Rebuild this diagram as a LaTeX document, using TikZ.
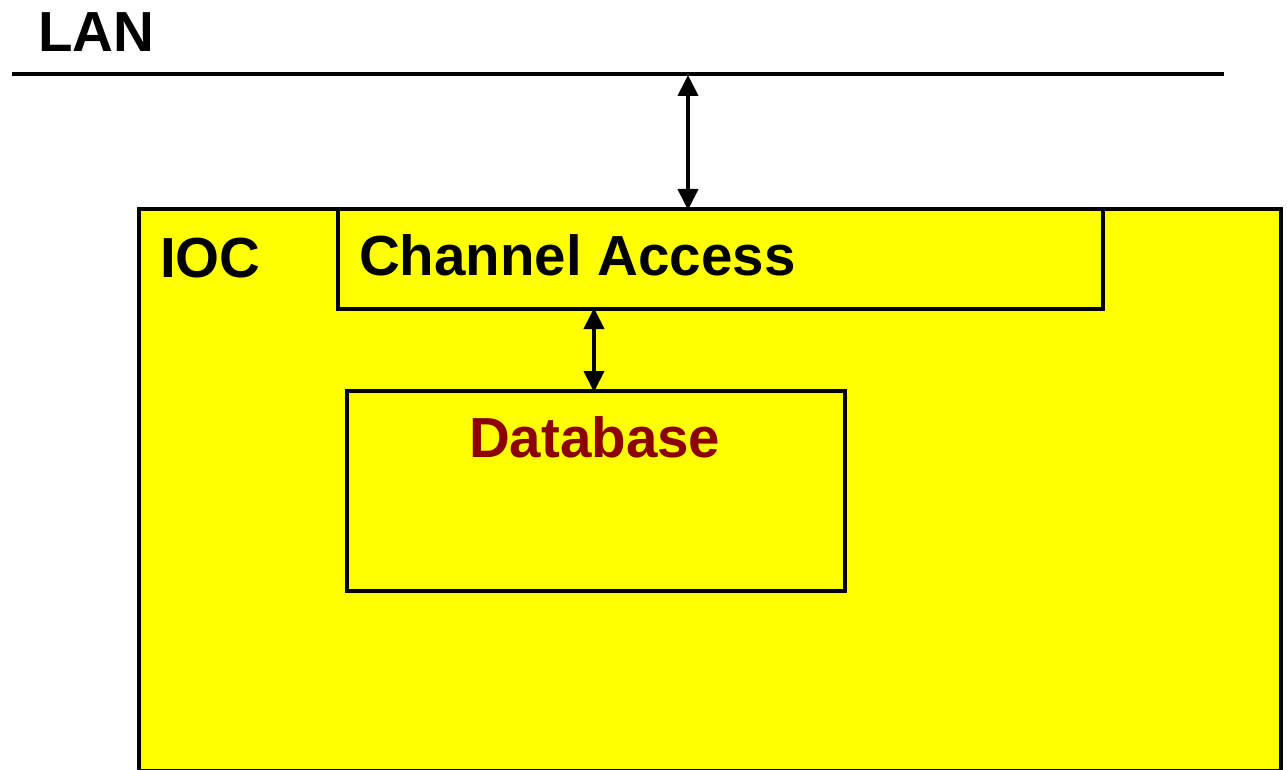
\documentclass[tikz,border=0pt]{standalone}
\usepackage{fontspec}
\setmainfont{Liberation Sans}
\usetikzlibrary{arrows.meta}
\definecolor{iocyellow}{RGB}{255,255,0}
\definecolor{dbred}{RGB}{140,0,0}
\begin{document}
\begin{tikzpicture}[x=1pt,y=-1pt,
  box/.style={draw=black,line width=3.8pt,fill=iocyellow,inner sep=0pt,outer sep=0pt,anchor=north west},
  label/.style={font=\fontsize{56.5}{60}\selectfont\bfseries,inner sep=0pt,anchor=base west},
  link/.style={line width=4pt,{Triangle[length=21pt,width=20pt]}-{Triangle[length=21pt,width=20pt]},shorten <=-1pt,shorten >=-1pt}]
  \useasboundingbox (0,0) rectangle (1287,770);
  % LAN bus
  \coordinate (lanL) at (12,74);
  \coordinate (lanR) at (1224,74);
  \draw[line width=4pt] (lanL) -- (lanR);
  \node[label] (lan) at (38,52) {LAN};
  % IOC enclosure
  \node[box,minimum width=1142pt,minimum height=562pt] (ioc) at (139,209) {};
  \node[label] (ioct) at (160,277) {IOC};
  % Channel Access
  \node[box,minimum width=765pt,minimum height=100pt] (ca) at (338,209) {};
  \node[label] (cat) at (359,275) {Channel Access};
  % Database
  \node[box,minimum width=498pt,minimum height=200pt] (db) at (347,391) {};
  \node[label,text=dbred] (dbt) at (469,457) {Database};
  % links
  \coordinate (lanTap) at (688,76);
  \draw[link] (lanTap) -- (lanTap |- ca.north);
  \draw[link] (ca.south -| 594,0) -- (db.north -| 594,0);
\end{tikzpicture}
\end{document}
